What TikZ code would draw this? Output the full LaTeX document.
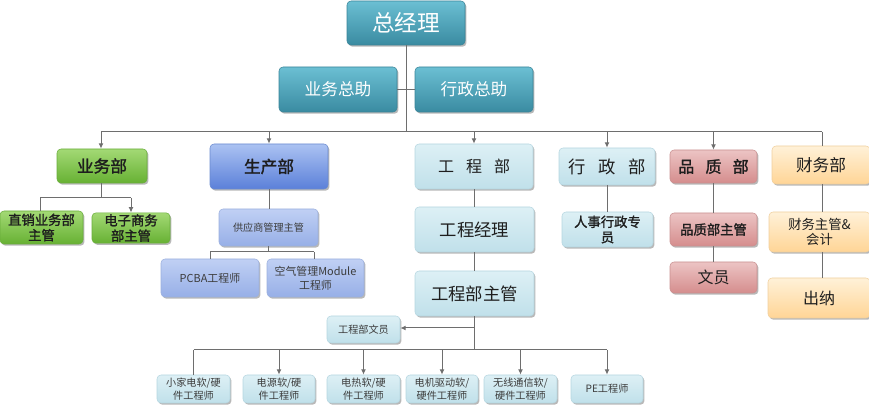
\documentclass[tikz,border=0pt]{standalone}
\usepackage{fontspec}
\setmainfont{Noto Sans CJK SC}[BoldFont={Noto Sans CJK SC}, BoldFeatures={FakeBold=1.6}]
\usetikzlibrary{shadows,arrows.meta}
\definecolor{tealT}{HTML}{6BBFD3}
\definecolor{tealB}{HTML}{3A8BA1}
\definecolor{tealD}{HTML}{3A8498}
\definecolor{grnT}{HTML}{A3D975}
\definecolor{grnB}{HTML}{67B133}
\definecolor{grnD}{HTML}{6AAE3C}
\definecolor{bluT}{HTML}{ABC2F2}
\definecolor{bluB}{HTML}{5B80D9}
\definecolor{bluD}{HTML}{6A8ACF}
\definecolor{lbT}{HTML}{C0D0F4}
\definecolor{lbB}{HTML}{97AFE7}
\definecolor{lbD}{HTML}{9BB0DE}
\definecolor{cyT}{HTML}{DDF0F5}
\definecolor{cyB}{HTML}{C0E0EA}
\definecolor{cyD}{HTML}{B5D6E0}
\definecolor{pkT}{HTML}{ECC4C4}
\definecolor{pkB}{HTML}{D58D8D}
\definecolor{pkD}{HTML}{C99090}
\definecolor{orT}{HTML}{FFF1D8}
\definecolor{orB}{HTML}{FFD596}
\definecolor{orD}{HTML}{F0CF9E}
\definecolor{lineC}{HTML}{6E6E6E}
\definecolor{txtC}{HTML}{1E1E1E}
\definecolor{smallC}{HTML}{3C3C3C}
\tikzset{
  box/.style={rounded corners=3pt, line width=0.4pt, align=center, inner sep=1pt,
    drop shadow={shadow xshift=1.1pt, shadow yshift=-1.3pt, opacity=0.28, fill=black}},
  sz/.style 2 args={minimum width={#1*0.75pt}, minimum height={#2*0.75pt}},
  tealbox/.style={box, top color=tealT, bottom color=tealB, draw=tealD, text=white},
  grnbox/.style={box, top color=grnT, bottom color=grnB, draw=grnD, text=txtC},
  blubox/.style={box, top color=bluT, bottom color=bluB, draw=bluD, text=txtC},
  lbbox/.style={box, top color=lbT, bottom color=lbB, draw=lbD, text=smallC},
  cybox/.style={box, top color=cyT, bottom color=cyB, draw=cyD, text=txtC},
  pkbox/.style={box, top color=pkT, bottom color=pkB, draw=pkD, text=txtC},
  orbox/.style={box, top color=orT, bottom color=orB, draw=orD, text=txtC},
  conn/.style={draw=lineC, line width=0.75pt},
  arr/.style={conn, -{Latex[length=4pt,width=3.6pt]}},
  fA/.style={font=\fontsize{17}{20}\selectfont},
  fB/.style={font=\fontsize{12.5}{15}\selectfont},
  fBb/.style={font=\fontsize{12.5}{15}\selectfont\bfseries},
  fC/.style={font=\fontsize{10}{11.5}\selectfont\bfseries},
  fCr/.style={font=\fontsize{10}{11.5}\selectfont},
  fS/.style={font=\fontsize{7.6}{10}\selectfont},
}
\begin{document}
\begin{tikzpicture}[x=0.75pt,y=-0.75pt]
\useasboundingbox (0,0) rectangle (869,406);
% top
\node[tealbox, sz={118}{44}, fA] (zjl) at (406,23) {总经理};
\node[tealbox, sz={118}{45}, fB] (ywzz) at (338,89.5) {业务总助};
\node[tealbox, sz={118}{45}, fB] (xzzz) at (474,89.5) {行政总助};
% departments
\node[grnbox, sz={90}{34}, fBb] (ywb) at (102,166) {业务部};
\node[blubox, sz={118}{45}, fBb] (scb) at (269,166.5) {生产部};
\node[cybox, sz={118}{45}, font=\fontsize{12}{14}\selectfont] (gcb) at (474,166.5) {工\hspace{0.75em}程\hspace{0.75em}部};
\node[cybox, sz={96}{37}, font=\fontsize{13}{15}\selectfont] (xzb) at (607,166.5) {行\hspace{0.75em}政\hspace{0.75em}部};
\node[pkbox, sz={87}{33}, font=\fontsize{12}{14}\selectfont\bfseries] (pzb) at (713.5,166.5) {品\hspace{0.7em}质\hspace{0.7em}部};
\node[orbox, sz={98}{38}, fB] (cwb) at (821,165) {财务部};
% sales
\node[grnbox, sz={83}{33}, fC] (zx) at (41.5,227.5) {直销业务部\\主管};
\node[grnbox, sz={78}{30}, fC] (dz) at (131,228) {电子商务\\部主管};
% production
\node[lbbox, sz={99}{37}, fS] (gys) at (268.5,227.5) {供应商管理主管};
\node[lbbox, sz={98}{38}, font=\fontsize{8.2}{10}\selectfont] (pcba) at (210,278) {PCBA工程师};
\node[lbbox, sz={97}{38}, font=\fontsize{8.2}{10.5}\selectfont] (kq) at (315.5,278) {空气管理Module\\工程师};
% engineering
\node[cybox, sz={119}{45}, font=\fontsize{13}{15}\selectfont] (gcjl) at (474.5,229.5) {工程经理};
\node[cybox, sz={119}{45}, font=\fontsize{13}{15}\selectfont] (gczg) at (474.5,293.5) {工程部主管};
\node[cybox, sz={73}{27}, fS, text=smallC] (wy) at (363.5,329.5) {工程部文员};
\node[cybox, sz={73}{28}, fS, text=smallC] (b1) at (193.5,389) {小家电软/硬\\件工程师};
\node[cybox, sz={72}{28}, fS, text=smallC] (b2) at (279,389) {电源软/硬\\件工程师};
\node[cybox, sz={73}{28}, fS, text=smallC] (b3) at (363.5,389) {电热软/硬\\件工程师};
\node[cybox, sz={72}{28}, fS, text=smallC] (b4) at (442,389) {电机驱动软/\\硬件工程师};
\node[cybox, sz={73}{28}, fS, text=smallC] (b5) at (520.5,389) {无线通信软/\\硬件工程师};
\node[cybox, sz={72}{28}, fS, text=smallC] (b6) at (607,389) {PE工程师};
% admin / quality / finance
\node[cybox, sz={91}{35}, fC] (rs) at (607.5,229.5) {人事行政专\\员};
\node[pkbox, sz={87}{33}, fC] (pzzg) at (713.5,229.5) {品质部主管};
\node[pkbox, sz={87}{31}, font=\fontsize{12}{14}\selectfont] (wy2) at (713.5,277.5) {文员};
\node[orbox, sz={101}{40}, fCr] (cwzg) at (819.5,232) {财务主管\&\\会计};
\node[orbox, sz={102}{40}, font=\fontsize{12}{14}\selectfont] (cn) at (819,298) {出纳};
% coordinates
\coordinate (bus) at (0,132);
\coordinate (bL) at (101,132);
\coordinate (bR) at (822,132);
\coordinate (ysplit) at (0,198);
\coordinate (psplit) at (0,252);
\coordinate (wysplit) at (0,328);
\coordinate (bot) at (0,350);
% connectors top
\draw[conn] (zjl.south) -- (zjl.south |- bus);
\draw[conn] (ywzz.east) -- (xzzz.west);
\draw[conn] (bL) -- (bR);
\draw[arr] (bL) -- (ywb.north -| bL);
\draw[arr] (scb.north |- bus) -- (scb.north);
\draw[arr] (gcb.north |- bus) -- (gcb.north);
\draw[arr] (xzb.north |- bus) -- (xzb.north);
\draw[arr] (pzb.north |- bus) -- (pzb.north);
\draw[conn] (bR) -- (cwb.north -| bR);
% sales
\draw[conn] (ywb.south -| bL) -- (bL |- ysplit);
\draw[conn] (40,198) -- (131,198);
\draw[conn] (40,198) -- (zx.north -| 40,0);
\draw[arr] (131,198) -- (dz.north);
% production
\draw[conn] (scb.south) -- (gys.north -| scb.south);
\draw[conn] (gys.south) -- (gys.south |- psplit);
\draw[conn] (pcba.north |- psplit) -- (314,252);
\draw[conn] (pcba.north |- psplit) -- (pcba.north);
\draw[conn] (314,252) -- (kq.north -| 314,0);
% engineering
\draw[conn] (gcb.south) -- (gcb.south |- gcjl.north);
\draw[conn] (gcjl.south -| gcb.south) -- (gczg.north -| gcb.south);
\draw[conn] (gczg.south -| gcb.south) -- (gcb.south |- bot);
\draw[arr] (gcb.south |- wysplit) -- (wy.east |- wysplit);
\draw[conn] (b1.north |- bot) -- (b6.north |- bot);
\draw[conn] (b1.north |- bot) -- (b1.north);
\draw[arr] (b2.north |- bot) -- (b2.north);
\draw[arr] (b3.north |- bot) -- (b3.north);
\draw[arr] (b4.north |- bot) -- (b4.north);
\draw[arr] (b5.north |- bot) -- (b5.north);
\draw[arr] (b6.north |- bot) -- (b6.north);
% admin / quality / finance
\draw[conn] (xzb.south) -- (rs.north -| xzb.south);
\draw[conn] (pzb.south) -- (pzzg.north);
\draw[conn] (pzzg.south) -- (wy2.north);
\draw[conn] (cwb.south -| bR) -- (cwzg.north -| bR);
\draw[conn] (cwzg.south -| bR) -- (cn.north -| bR);
\end{tikzpicture}
\end{document}
